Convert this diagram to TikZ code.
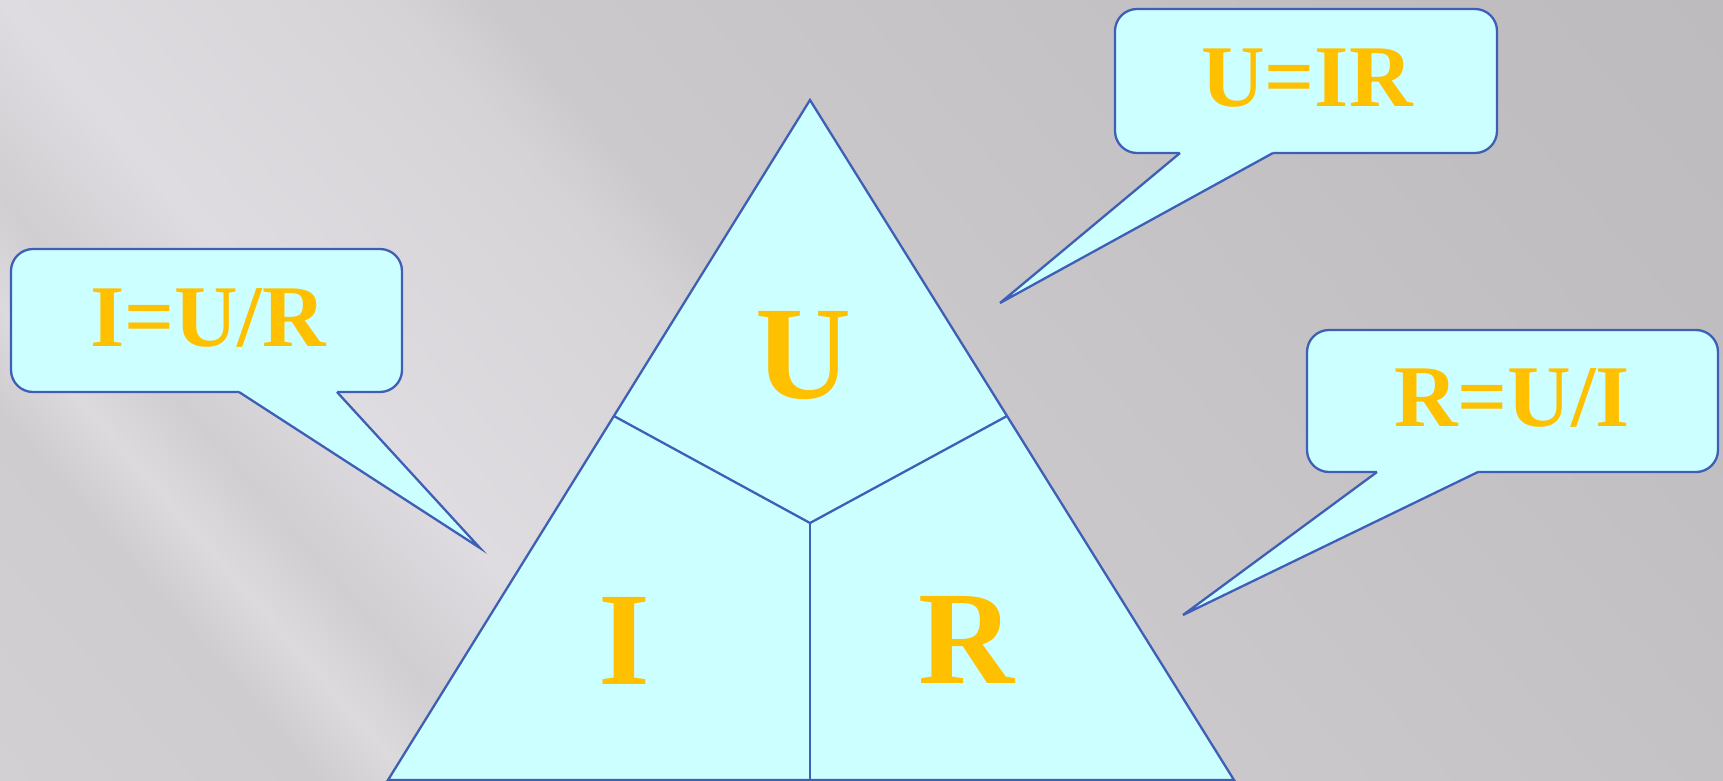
\documentclass[tikz,border=0pt]{standalone}
\usepackage{fontspec}
\setmainfont{Liberation Serif}
\usetikzlibrary{calc}
\definecolor{fillc}{HTML}{CCFFFF}
\definecolor{linec}{HTML}{3F5FB7}
\definecolor{txtc}{HTML}{FFC000}
\definecolor{bg0}{HTML}{D2D0D3}
\definecolor{bg1}{HTML}{CECCCF}
\definecolor{bg2}{HTML}{DCDADD}
\definecolor{bg3}{HTML}{D0CED1}
\definecolor{bg4}{HTML}{DEDCE0}
\definecolor{bg5}{HTML}{D8D6D9}
\definecolor{bg6}{HTML}{D5D3D6}
\definecolor{bg7}{HTML}{CBC9CC}
\definecolor{bg8}{HTML}{C7C5C8}
\definecolor{bg9}{HTML}{C0BEC1}
\definecolor{bg10}{HTML}{BDBBBE}
\pgfdeclarehorizontalshading{bgshade}{100bp}{%
  color(0bp)=(bg0); color(25bp)=(bg0); color(31.8bp)=(bg1); color(33.7bp)=(bg2);
  color(35.7bp)=(bg3); color(39.2bp)=(bg4); color(45.1bp)=(bg5); color(47.3bp)=(bg6);
  color(49.3bp)=(bg7); color(56bp)=(bg8); color(67bp)=(bg9); color(75bp)=(bg10); color(100bp)=(bg10)}
\begin{document}
\begin{tikzpicture}[x=1pt,y=-1pt,
  cbox/.style={fill=fillc, draw=linec, line width=2.3pt, line join=miter},
  cline/.style={draw=linec, line width=2.3pt},
  eqtext/.style={text=txtc, font=\fontsize{88pt}{88pt}\selectfont\bfseries, inner sep=0pt, anchor=base},
  bigletter/.style={text=txtc, font=\fontsize{133pt}{133pt}\selectfont\bfseries, inner sep=0pt, anchor=base}]
\useasboundingbox (0,0) rectangle (1723,781);
% background
\fill[bg9] (0,0) rectangle (1723,781);
\begin{scope}
  \clip (0,0) rectangle (1723,781);
  \begin{scope}[transform canvas={rotate=41}, x=1pt, y=1pt]
    \shade[shading=bgshade] (-520,-2600) rectangle (1310,1500);
  \end{scope}
\end{scope}
% triangle
\coordinate (A) at (810,100);
\coordinate (BL) at (388,780);
\coordinate (BR) at (1234,780);
\coordinate (PL) at ($(A)!0.4647!(BL)$);
\coordinate (PR) at ($(A)!0.4647!(BR)$);
\coordinate (C) at (810,523);
\coordinate (M) at (810,780);
\draw[cbox] (A) -- (BR) -- (BL) -- cycle;
\draw[cline] (PL) -- (C) -- (PR);
\draw[cline] (C) -- (M);
% left callout
\draw[cbox, rounded corners=22pt] (11,249) rectangle (402,392);
\coordinate (La) at (239,392);
\coordinate (Lb) at (337,392);
\coordinate (Lt) at (480,548);
\fill[fillc] (239,389) -- (La) -- (Lt) -- (Lb) -- (337,389) -- cycle;
\draw[cline, line join=miter] (La) -- (Lt) -- (Lb);
% top callout
\draw[cbox, rounded corners=22pt] (1115,9) rectangle (1497,153);
\coordinate (Ta) at (1180,153);
\coordinate (Tb) at (1273,153);
\coordinate (Tt) at (1000,303);
\fill[fillc] (1180,150) -- (Ta) -- (Tt) -- (Tb) -- (1273,150) -- cycle;
\draw[cline, line join=miter] (Ta) -- (Tt) -- (Tb);
% right callout
\draw[cbox, rounded corners=22pt] (1307,330) rectangle (1718,472);
\coordinate (Ra) at (1377,472);
\coordinate (Rb) at (1478,472);
\coordinate (Rt) at (1183,615);
\fill[fillc] (1377,469) -- (Ra) -- (Rt) -- (Rb) -- (1478,469) -- cycle;
\draw[cline, line join=miter] (Ra) -- (Rt) -- (Rb);
% texts
\node[eqtext] (eqI) at (208,346) {I=U/R};
\node[eqtext] (eqU) at (1307,107) {U=IR};
\node[eqtext] (eqR) at (1512,426) {R=U/I};
\node[bigletter] (lU) at (804,398) {U};
\node[bigletter] (lI) at (624,684) {I};
\node[bigletter] (lR) at (967,683) {R};
\end{tikzpicture}
\end{document}
